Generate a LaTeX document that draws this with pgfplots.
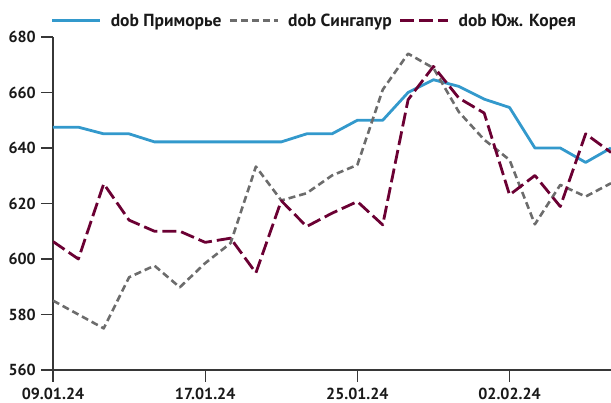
\documentclass[border=0pt]{standalone}
\usepackage{pgfplots}
\pgfplotsset{compat=1.18}
\usepackage{fontspec}
\setmainfont{PT Sans}
\definecolor{cblue}{RGB}{51,153,204}
\definecolor{cgrey}{RGB}{108,108,108}
\definecolor{cmaroon}{RGB}{107,0,51}
\definecolor{caxis}{RGB}{55,55,55}
\begin{document}
\begin{tikzpicture}
\path[use as bounding box] (-53pt,-33pt) rectangle (558pt,370pt);
\begin{axis}[
  at={(0pt,0pt)}, anchor=south west,
  scale only axis, width=558pt, height=333pt,
  xmin=0, xmax=22, ymin=560, ymax=680,
  axis x line*=bottom, axis y line*=left,
  axis line style={caxis, line width=1.3pt},
  tick style={caxis, line width=1.3pt},
  major tick length=12pt, tick align=outside,
  xtick={0,6,12,18},
  xticklabels={09.01.24,17.01.24,25.01.24,02.02.24},
  ytick={560,580,600,620,640,660,680},
  /pgf/number format/assume math mode=true,
  every tick label/.append style={font=\bfseries\fontsize{16}{19}\selectfont, text=black!90},
  yticklabel style={inner sep=0pt, xshift=-5pt},
  xticklabel style={inner sep=0pt, yshift=-6pt},
  legend style={at={(axis description cs:-0.0036,1.049)}, anchor=west, draw=none, fill=none,
    inner sep=0pt, outer sep=0pt,
    legend columns=3, font=\bfseries\fontsize{17.5}{20}\selectfont, text=black!90,
    nodes={inner sep=0pt, outer sep=0pt},
    /tikz/every odd column/.append style={column sep=9pt},
    /tikz/every even column/.append style={column sep=7pt}},
  legend image code/.code={\draw[#1] (0pt,0pt) -- (48pt,0pt);},
  clip=true,
]
\addplot[cblue, line width=2.8pt, line join=round] coordinates {
(0,647.5) (1,647.5) (2,645.1) (3,645.1) (4,642.2) (5,642.2) (6,642.2) (7,642.2)
(8,642.2) (9,642.2) (10,645.1) (11,645.1) (12,650) (13,650) (14,660) (15,664.6)
(16,662.2) (17,657.6) (18,654.6) (19,640) (20,640) (21,634.8) (22,640)};
\addlegendentry{dob Приморье}
\addplot[cgrey, line width=2.6pt, line join=round, dash pattern=on 7pt off 4pt] coordinates {
(0,585) (1,580) (2,575) (3,593.4) (4,597.6) (5,589.8) (6,598.5) (7,605.7)
(8,633.3) (9,621.1) (10,623.7) (11,630.1) (12,633.9) (13,661) (14,674) (15,668.8)
(16,653) (17,643) (18,635.7) (19,612.5) (20,626.7) (21,622.5) (22,627.3)};
\addlegendentry{dob Сингапур}
\addplot[cmaroon, line width=2.8pt, line join=round, dash pattern=on 14pt off 5pt] coordinates {
(0,606.3) (1,600) (2,627.1) (3,614) (4,610) (5,610) (6,606) (7,607.5)
(8,595) (9,621) (10,611.7) (11,616.5) (12,620.7) (13,612.3) (14,657.4) (15,669.4)
(16,658) (17,652.6) (18,623.1) (19,630.1) (20,618.9) (21,645.1) (22,638.4)};
\addlegendentry{dob Юж. Корея}
\end{axis}
\end{tikzpicture}
\end{document}
